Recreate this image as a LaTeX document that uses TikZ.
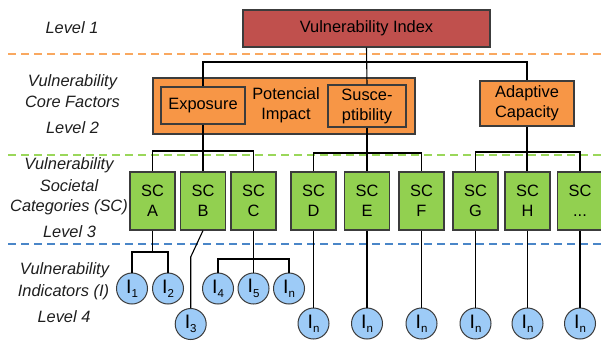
\documentclass[tikz,border=0pt]{standalone}
\usepackage{fontspec}
\setmainfont{Liberation Sans}
\definecolor{viRed}{HTML}{C0504D}
\definecolor{coreOrange}{HTML}{F79646}
\definecolor{scGreen}{HTML}{92D050}
\definecolor{indBlue}{HTML}{9DCBF7}
\definecolor{edgeGray}{HTML}{3C3C3C}
\definecolor{labelGray}{HTML}{1E1E1E}
\definecolor{sepOrange}{HTML}{F9A860}
\definecolor{sepGreen}{HTML}{9AD75A}
\definecolor{sepBlue}{HTML}{4A86C8}
\newcommand{\ind}[1]{{\fontsize{19.5}{20}\selectfont I}\raisebox{-0.5ex}{\fontsize{11.5}{11.5}\selectfont #1}}
\begin{document}
\begin{tikzpicture}[x=1pt,y=-1pt,
  every node/.style={font=\fontsize{16.4}{20}\selectfont, text=black},
  box/.style={draw=edgeGray, line width=1.1pt, inner sep=0pt, align=center},
  vibox/.style={box, fill=viRed},
  corebox/.style={box, fill=coreOrange},
  scbox/.style={box, fill=scGreen, minimum width=45pt, minimum height=58pt},
  indc/.style={circle, draw=edgeGray, line width=1pt, fill=indBlue, minimum size=31pt, inner sep=0pt},
  lvl/.style={font=\fontsize{16.4}{20}\selectfont\itshape, text=labelGray},
  sep/.style={dashed, dash pattern=on 8pt off 5pt, line width=1.1pt},
  link/.style={draw=black, line width=1.1pt}]
\useasboundingbox (0,0) rectangle (601,343);
\clip (0,0) rectangle (601,343);

% level separators
\draw[sep, sepOrange] (8,54) -- (601,54);
\draw[sep, sepGreen] (8,155) -- (601,155);
\draw[sep, sepBlue] (8,244) -- (601,244);

% level captions
\node[lvl] (l1) at (72,28) {Level 1};
\node[lvl] (l2a) at (72.5,82) {Vulnerability};
\node[lvl] (l2b) at (72.5,102) {Core Factors};
\node[lvl] (l2c) at (72.5,128) {Level 2};
\node[lvl] (l3a) at (69,165) {Vulnerability};
\node[lvl] (l3b) at (69,186) {Societal};
\node[lvl] (l3c) at (69,207) {Categories (SC)};
\node[lvl] (l3d) at (69.5,232) {Level 3};
\node[lvl] (l4a) at (64.5,270) {Vulnerability};
\node[lvl] (l4b) at (63.5,292) {Indicators (I)};
\node[lvl] (l4c) at (64,317) {Level 4};

% level 1
\node[vibox, minimum width=247pt, minimum height=37pt] (vi) at (366.5,28.5) {Vulnerability Index};

% level 2
\node[corebox, minimum width=262pt, minimum height=56pt] (pi) at (284,106) {};
\node (pit) at (286,105) [align=center] {Potencial\\Impact};
\node[corebox, minimum width=84pt, minimum height=37pt] (exp) at (203,105.5) {Exposure};
\node[corebox, minimum width=78pt, minimum height=42pt] (sus) at (367,106) {Susce-\\ptibility};
\node[corebox, minimum width=94pt, minimum height=45pt] (ac) at (527,103.5) {Adaptive\\Capacity};

% level 3
\node[scbox] (sca) at (152.5,201) {SC\\A};
\node[scbox] (scb) at (203,201) {SC\\B};
\node[scbox] (scc) at (253.5,201) {SC\\C};
\node[scbox] (scd) at (313.5,201) {SC\\D};
\node[scbox] (sce) at (367,201) {SC\\E};
\node[scbox] (scf) at (421.5,201) {SC\\F};
\node[scbox] (scg) at (475.5,201) {SC\\G};
\node[scbox] (sch) at (527.5,201) {SC\\H};
\node[scbox] (scx) at (580,201) {SC\\...};

% level 4
\node[indc] (i1) at (132,288.5) {\ind{1}};
\node[indc] (i2) at (168,288.5) {\ind{2}};
\node[indc] (i3) at (190.7,324) {\ind{3}};
\node[indc] (i4) at (218,288.5) {\ind{4}};
\node[indc] (i5) at (253.5,288.5) {\ind{5}};
\node[indc] (in0) at (289,288.5) {\ind{n}};
\node[indc] (ind) at (313.5,323.5) {\ind{n}};
\node[indc] (ine) at (367,323.5) {\ind{n}};
\node[indc] (inf) at (421.5,323.5) {\ind{n}};
\node[indc] (ing) at (475.5,323.5) {\ind{n}};
\node[indc] (inh) at (527.5,323.5) {\ind{n}};
\node[indc] (inx) at (580,323.5) {\ind{n}};

% bus junctions
\coordinate (busT) at (367,62);
\coordinate (busE) at (203,151);
\coordinate (busS) at (367,153);
\coordinate (busA) at (527,152);
\coordinate (busIa) at (152.5,252);
\coordinate (bendB) at (190.7,257);
\coordinate (busIc) at (253.5,259);

% level 1 -> level 2
\draw[link] (vi.south) -- (sus.north);
\draw[link] (exp.north) |- (busT) -| (ac.north);

% level 2 -> level 3
\draw[link] (exp.south) -- (exp.south |- scb.north);
\draw[link] (sca.north) |- (busE) -| (scc.north);
\draw[link] (sus.south) -- (sce.north);
\draw[link] (scd.north) |- (busS) -| (scf.north);
\draw[link] (ac.south) -- (ac.south |- sch.north);
\draw[link] (scg.north) |- (busA) -| (scx.north);

% level 3 -> level 4
\draw[link] (sca.south) -- (busIa);
\draw[link] (i1.north) |- (busIa) -| (i2.north);
\draw[link] (scb.south) -- (bendB) -- (i3.north);
\draw[link] (scc.south) -- (i5.north);
\draw[link] (i4.north) |- (busIc) -| (in0.north);
\draw[link] (scd.south) -- (ind.north);
\draw[link] (sce.south) -- (ine.north);
\draw[link] (scf.south) -- (inf.north);
\draw[link] (scg.south) -- (ing.north);
\draw[link] (sch.south) -- (inh.north);
\draw[link] (scx.south) -- (inx.north);
\end{tikzpicture}
\end{document}
